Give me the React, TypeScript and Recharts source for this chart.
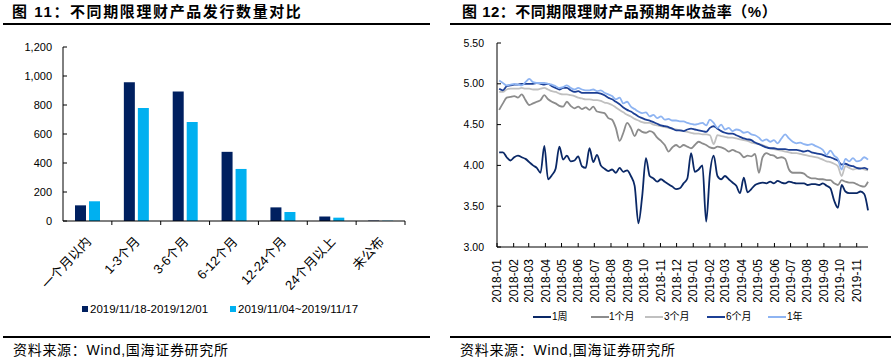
import React from 'react';
import { BarChart, Bar, XAxis, YAxis, LineChart, Line } from 'recharts';

// ---------- Figure 11: issuance counts by term ----------
const TERM_CATEGORIES = ['一个月以内', '1-3个月', '3-6个月', '6-12个月', '12-24个月', '24个月以上', '未公布'];
const ISSUES_RECENT = [108, 957, 893, 477, 94, 31, 3];
const ISSUES_PRIOR = [136, 780, 682, 359, 62, 23, 2];
const BAR_SERIES_NAMES = ['2019/11/18-2019/12/01', '2019/11/04~2019/11/17'];
const COUNT_TICKS = [0, 200, 400, 600, 800, 1000, 1200];

// ---------- Figure 12: expected annual yields (weekly, from 2018-01-05) ----------
const YIELD_1W = [
  4.16, 4.16, 4.10, 4.06, 4.10, 4.12, 4.10, 4.08, 4.04, 4.00,
  3.97, 3.91, 4.24, 3.83, 3.88, 3.96, 4.23, 4.07, 4.12, 4.05,
  4.06, 4.11, 3.99, 3.97, 4.21, 4.04, 4.13, 4.00, 3.96, 3.93,
  3.95, 3.91, 3.97, 3.92, 3.94, 3.87, 3.75, 3.29, 3.62, 4.09,
  3.87, 3.84, 3.80, 3.83, 3.80, 3.77, 3.74, 3.71, 3.72, 3.78,
  3.84, 4.15, 3.92, 3.95, 4.00, 3.31, 3.90, 4.12, 3.87, 3.83,
  3.87, 3.83, 3.79, 3.75, 3.66, 3.85, 3.67, 3.71, 3.76, 3.78,
  3.79, 3.78, 3.80, 3.78, 3.81, 3.79, 3.78, 3.80, 3.79, 3.78,
  3.78, 3.78, 3.76, 3.77, 3.77, 3.76, 3.78, 3.75, 3.72, 3.57,
  3.48, 3.76, 3.68, 3.66, 3.66, 3.66, 3.68, 3.65, 3.45,
];
const YIELD_1M = [
  4.68, 4.76, 4.83, 4.84, 4.85, 4.83, 4.87, 4.80, 4.74, 4.76,
  4.78, 4.80, 4.86, 4.81, 4.78, 4.76, 4.73, 4.72, 4.78, 4.73,
  4.70, 4.72, 4.69, 4.71, 4.68, 4.72, 4.66, 4.65, 4.64, 4.58,
  4.56, 4.46, 4.30, 4.40, 4.52, 4.46, 4.36, 4.44, 4.41, 4.40,
  4.42, 4.40, 4.34, 4.30, 4.25, 4.17, 4.22, 4.25, 4.22, 4.25,
  4.23, 4.21, 4.25, 4.29, 4.27, 4.25, 4.22, 4.21, 4.23, 4.22,
  4.20, 4.17, 4.19, 4.17, 4.15, 4.10, 4.12, 4.11, 4.14, 3.91,
  4.10, 4.15, 4.13, 4.12, 4.09, 4.10, 4.08, 3.95, 3.91, 3.91,
  3.91, 3.90, 3.86, 3.84, 3.84, 3.83, 3.83, 3.82, 3.82, 3.78,
  3.76, 3.82, 3.80, 3.79, 3.79, 3.77, 3.75, 3.74, 3.80,
];
const YIELD_3M = [
  4.90, 4.90, 4.93, 4.94, 4.94, 4.94, 4.95, 4.94, 4.94, 4.93,
  4.93, 4.94, 4.95, 4.93, 4.91, 4.90, 4.88, 4.87, 4.87, 4.86,
  4.85, 4.83, 4.82, 4.81, 4.81, 4.80, 4.80, 4.79, 4.77, 4.76,
  4.74, 4.71, 4.68, 4.65, 4.62, 4.60, 4.57, 4.55, 4.53, 4.52,
  4.52, 4.50, 4.49, 4.48, 4.47, 4.46, 4.45, 4.44, 4.43, 4.42,
  4.41, 4.40, 4.39, 4.39, 4.38, 4.38, 4.37, 4.26, 4.37, 4.36,
  4.35, 4.34, 4.34, 4.33, 4.32, 4.31, 4.30, 4.28, 4.27, 4.26,
  4.25, 4.23, 4.21, 4.20, 4.19, 4.18, 4.17, 4.16, 4.15, 4.15,
  4.14, 4.13, 4.12, 4.11, 4.10, 4.09, 4.07, 4.05, 4.04, 4.02,
  3.99, 3.87, 3.99, 3.97, 3.95, 3.96, 3.97, 3.95, 3.94,
];
const YIELD_6M = [
  4.94, 4.92, 4.97, 4.98, 4.99, 4.99, 5.00, 5.00, 5.00, 5.00,
  5.01, 5.00, 4.99, 5.00, 4.97, 4.95, 4.93, 4.95, 4.95, 4.92,
  4.90, 4.91, 4.89, 4.89, 4.89, 4.89, 4.89, 4.88, 4.86, 4.83,
  4.81, 4.78, 4.75, 4.71, 4.68, 4.66, 4.63, 4.60, 4.58, 4.56,
  4.55, 4.53, 4.51, 4.49, 4.48, 4.47, 4.45, 4.43, 4.43, 4.42,
  4.44, 4.45, 4.44, 4.43, 4.42, 4.41, 4.46, 4.48, 4.45, 4.42,
  4.40, 4.39, 4.39, 4.37, 4.35, 4.33, 4.32, 4.31, 4.28, 4.26,
  4.24, 4.22, 4.21, 4.21, 4.20, 4.20, 4.20, 4.19, 4.19, 4.19,
  4.18, 4.17, 4.18, 4.16, 4.15, 4.14, 4.13, 4.11, 4.10, 4.08,
  4.06, 4.01, 4.02, 4.00, 3.99, 3.97, 3.96, 3.97, 3.95,
];
const YIELD_1Y = [
  5.04, 5.01, 4.98, 4.99, 5.00, 4.99, 4.98, 5.02, 5.06, 5.02,
  5.01, 5.01, 5.01, 5.00, 4.99, 4.97, 4.95, 4.96, 4.98, 4.95,
  4.93, 4.95, 4.93, 4.92, 4.92, 4.93, 4.91, 4.92, 4.89, 4.87,
  4.85, 4.81, 4.83, 4.76, 4.78, 4.72, 4.69, 4.66, 4.64, 4.65,
  4.60, 4.62, 4.58, 4.60, 4.56, 4.57, 4.55, 4.55, 4.54, 4.54,
  4.52, 4.51, 4.50, 4.51, 4.52, 4.49, 4.56, 4.52, 4.46, 4.50,
  4.44, 4.46, 4.42, 4.44, 4.43, 4.40, 4.41, 4.38, 4.37, 4.34,
  4.30, 4.32, 4.29, 4.31, 4.27, 4.33, 4.38, 4.33, 4.29, 4.27,
  4.28, 4.26, 4.25, 4.26, 4.24, 4.22, 4.19, 4.13, 4.18, 4.12,
  4.08, 3.95, 4.08, 4.05, 4.09, 4.05, 4.06, 4.10, 4.07,
];
const YIELD_SERIES_NAMES = ['1周', '1个月', '3个月', '6个月', '1年'];
const MONTH_LABELS = [
  '2018-01', '2018-02', '2018-03', '2018-04', '2018-05', '2018-06', '2018-07', '2018-08',
  '2018-09', '2018-10', '2018-11', '2018-12', '2019-01', '2019-02', '2019-03', '2019-04',
  '2019-05', '2019-06', '2019-07', '2019-08', '2019-09', '2019-10', '2019-11',
];
const YIELD_TICKS = [3.0, 3.5, 4.0, 4.5, 5.0, 5.5];

// ---------- derived tables ----------
const DAY = 86400000;
const ORIGIN = Date.UTC(2018, 0, 1);
const FIRST_OBS = Date.UTC(2018, 0, 5);
const dayOf = (t: number) => (t - ORIGIN) / DAY;

const barRows = TERM_CATEGORIES.map((c, i) => ({ term: c, recent: ISSUES_RECENT[i], prior: ISSUES_PRIOR[i] }));
const yieldRows = YIELD_1W.map((_, i) => ({
  day: dayOf(FIRST_OBS + i * 7 * DAY),
  w1: YIELD_1W[i],
  m1: YIELD_1M[i],
  m3: YIELD_3M[i],
  m6: YIELD_6M[i],
  y1: YIELD_1Y[i],
}));
const MONTH_TICKS = MONTH_LABELS.map((s) => {
  const [y, m] = s.split('-').map(Number);
  return dayOf(Date.UTC(y, m - 1, 1));
});
const LAST_DAY = dayOf(Date.UTC(2019, 10, 22));

const FONT = "'Liberation Sans', Arial, 'Noto Sans CJK SC', sans-serif";
const C_DARK = '#002060';
const C_LIGHT = '#00B0F0';
const LINE_COLORS = ['#0A2866', '#8C8C8C', '#C0C0C0', '#1C3F94', '#8EB4F2'];
const LINE_KEYS = ['w1', 'm1', 'm3', 'm6', 'y1'];

const BAND = 342 / 7;

function CountTick(props: any) {
  const { x, y, payload } = props;
  const axisX = x + 11;
  return (
    <g>
      <line x1={axisX} x2={axisX + 4} y1={y} y2={y} stroke="#000" />
      <text x={x} y={y} dy="0.35em" textAnchor="end" fontSize={11} fontFamily={FONT} fill="#000">
        {Number(payload.value).toLocaleString('en-US')}
      </text>
    </g>
  );
}

function TermTick(props: any) {
  const { x, y, payload } = props;
  const axisY = y - 10;
  return (
    <g>
      <line x1={x + BAND / 2} x2={x + BAND / 2} y1={axisY} y2={axisY + 4} stroke="#000" />
      <text
        transform={`translate(${x + 1},${axisY + 18}) rotate(-47)`}
        textAnchor="end"
        dy="0.35em"
        fontSize={13}
        fontFamily={FONT}
        fill="#000"
      >
        {payload.value}
      </text>
    </g>
  );
}

function YieldTick(props: any) {
  const { x, y, payload } = props;
  const axisX = x + 13;
  return (
    <g>
      <line x1={axisX} x2={axisX + 4} y1={y} y2={y} stroke="#000" />
      <text x={x} y={y} dy="0.35em" textAnchor="end" fontSize={10.5} fontFamily={FONT} fill="#000">
        {Number(payload.value).toFixed(2)}
      </text>
    </g>
  );
}

function MonthTick(props: any) {
  const { x, y, payload } = props;
  const axisY = y - 6;
  const idx = MONTH_TICKS.indexOf(payload.value);
  return (
    <g>
      <line x1={x} x2={x} y1={axisY} y2={axisY - 4} stroke="#000" />
      <text
        transform={`translate(${x},${axisY + 12}) rotate(-90)`}
        textAnchor="end"
        dy="0.35em"
        fontSize={12}
        fontFamily={FONT}
        fill="#000"
      >
        {idx >= 0 ? MONTH_LABELS[idx] : ''}
      </text>
    </g>
  );
}

const abs = (s: React.CSSProperties): React.CSSProperties => ({ position: 'absolute', whiteSpace: 'nowrap', ...s });

export default function App() {
  return (
    <div style={{ position: 'absolute', left: 0, top: 0, width: 891, height: 360, background: '#fff', overflow: 'hidden', fontFamily: FONT, color: '#000' }}>
      {/* Titles */}
      <div style={abs({ left: 12, top: 3, fontSize: 15, fontWeight: 'bold', letterSpacing: 1.6, lineHeight: '18px' })}>
        图 11：不同期限理财产品发行数量对比
      </div>
      <div style={abs({ left: 462, top: 3, fontSize: 15, fontWeight: 'bold', letterSpacing: 0.5, lineHeight: '18px' })}>
        图 12：不同期限理财产品预期年收益率（%）
      </div>
      <div style={abs({ left: 3, top: 23, width: 427, height: 1.5, background: '#000' })} />
      <div style={abs({ left: 450, top: 23, width: 441, height: 1.5, background: '#000' })} />

      {/* Left chart */}
      <div style={abs({ left: 0, top: 0 })}>
        <BarChart width={445} height={300} data={barRows} margin={{ top: 47, right: 40, bottom: 0, left: 0 }} barSize={11} barGap={3}>
          <YAxis
            width={63}
            domain={[0, 1200]}
            ticks={COUNT_TICKS}
            interval={0}
            tickSize={0}
            tickMargin={11}
            tickLine={false}
            axisLine={{ stroke: '#000' }}
            tick={<CountTick />}
          />
          <XAxis
            dataKey="term"
            height={79}
            interval={0}
            tickSize={0}
            tickMargin={10}
            tickLine={false}
            axisLine={{ stroke: '#000' }}
            tick={<TermTick />}
          />
          <Bar dataKey="recent" fill={C_DARK} isAnimationActive={false} />
          <Bar dataKey="prior" fill={C_LIGHT} isAnimationActive={false} />
        </BarChart>
      </div>
      {/* Left legend */}
      <div style={abs({ left: 82, top: 306, width: 6, height: 6, background: C_DARK })} />
      <div style={abs({ left: 90, top: 301, fontSize: 11.5, lineHeight: '16px' })}>{BAR_SERIES_NAMES[0]}</div>
      <div style={abs({ left: 230, top: 306, width: 6, height: 6, background: C_LIGHT })} />
      <div style={abs({ left: 238, top: 301, fontSize: 11.5, lineHeight: '16px' })}>{BAR_SERIES_NAMES[1]}</div>

      {/* Right chart */}
      <div style={abs({ left: 445, top: 0 })}>
        <LineChart width={446} height={302} data={yieldRows} margin={{ top: 43, right: 23, bottom: 0, left: 0 }}>
          <YAxis
            width={52}
            domain={[3, 5.5]}
            ticks={YIELD_TICKS}
            interval={0}
            tickSize={0}
            tickMargin={13}
            tickLine={false}
            axisLine={{ stroke: '#000' }}
            tick={<YieldTick />}
          />
          <XAxis
            dataKey="day"
            type="number"
            domain={[0, LAST_DAY]}
            ticks={MONTH_TICKS}
            interval={0}
            height={55}
            tickSize={0}
            tickMargin={6}
            tickLine={false}
            axisLine={{ stroke: '#000' }}
            tick={<MonthTick />}
          />
          {LINE_KEYS.map((k, i) => (
            <Line
              key={k}
              dataKey={k}
              type="monotone"
              stroke={LINE_COLORS[i]}
              strokeWidth={1.8}
              dot={false}
              isAnimationActive={false}
            />
          ))}
        </LineChart>
      </div>
      {/* Right legend */}
      {[
        [533, 552],
        [591, 609],
        [645, 664],
        [707, 726],
        [768, 787],
      ].map(([lx, tx], i) => (
        <React.Fragment key={i}>
          <div style={abs({ left: lx, top: 316, width: 18, height: 2, background: LINE_COLORS[i] })} />
          <div style={abs({ left: tx, top: 310, fontSize: 10, lineHeight: '14px' })}>{YIELD_SERIES_NAMES[i]}</div>
        </React.Fragment>
      ))}

      {/* Bottom rules and sources */}
      <div style={abs({ left: 3, top: 336, width: 427, height: 1.5, background: '#000' })} />
      <div style={abs({ left: 450, top: 336, width: 441, height: 1.5, background: '#000' })} />
      <div style={abs({ left: 13, top: 341, fontSize: 14, letterSpacing: 0.7, lineHeight: '18px' })}>资料来源：Wind,国海证券研究所</div>
      <div style={abs({ left: 460, top: 341, fontSize: 14, letterSpacing: 0.7, lineHeight: '18px' })}>资料来源：Wind,国海证券研究所</div>
    </div>
  );
}
